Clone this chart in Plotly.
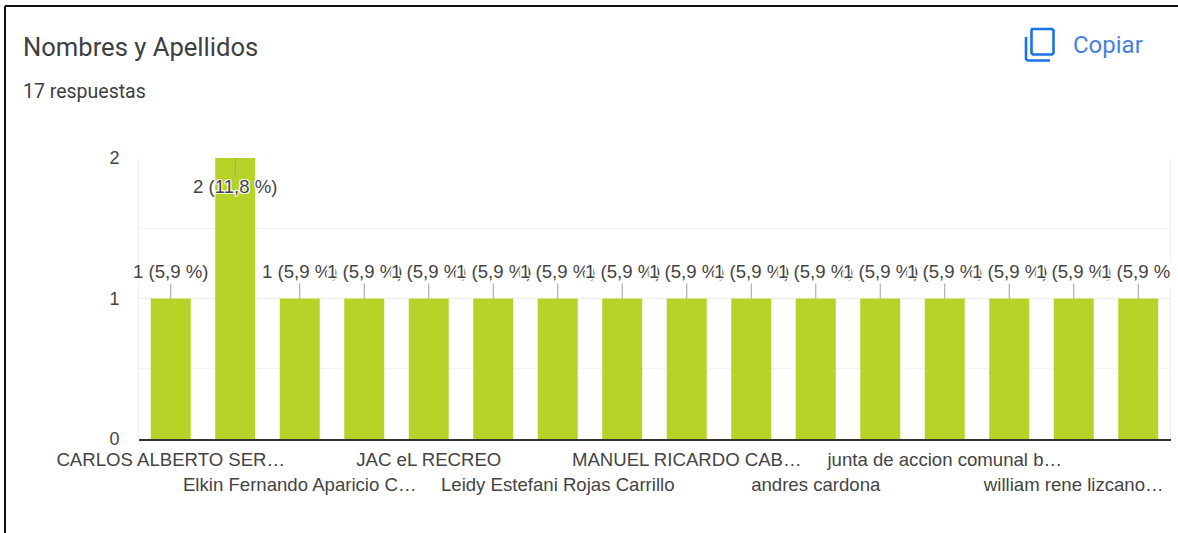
import plotly.graph_objects as go

# Data
title_text = "Nombres y Apellidos"
subtitle_text = "17 respuestas"
copy_text = "Copiar"
bar_ids = list(range(16))
counts = [1, 2, 1, 1, 1, 1, 1, 1, 1, 1, 1, 1, 1, 1, 1, 1]
value_labels = ["1 (5,9 %)", "2 (11,8 %)"] + ["1 (5,9 %)"] * 13 + ['1 (5,9 %<span style="color:#ffffff">)</span>']
tick_ids = [0, 2, 4, 6, 8, 10, 12, 14]
tick_names = [
    "CARLOS ALBERTO SER…",
    "Elkin Fernando Aparicio C…",
    "JAC eL RECREO",
    "Leidy Estefani Rojas Carrillo",
    "MANUEL RICARDO CAB…",
    "andres cardona",
    "junta de accion comunal b…",
    "william rene lizcano…",
]
y_ticks = [0, 1, 2]

W, H = 1178, 533
L, R, T, B = 138.5, 1170.5, 158, 439
THIN_HALO = ("1px 0 0 #fff, -1px 0 0 #fff, 0 1px 0 #fff, 0 -1px 0 #fff, 1px 1px 0 #fff, -1px -1px 0 #fff, "
             "1px -1px 0 #fff, -1px 1px 0 #fff")
HALO = THIN_HALO + ", -2px 0 0 #fff, 2px 0 0 #fff, -2px 2px 0 #fff, -2px -2px 0 #fff, -2px 4px 0 #fff, -2px -4px 0 #fff"


def px(x):
    return x / W


def py(y):
    return 1 - y / H


ticktext = []
for i, name in enumerate(tick_names):
    span = f'<span style="font-size:18.6px">{name}</span>'
    ticktext.append(span if i % 2 == 0 else "<br>" + span)

fig = go.Figure(
    go.Bar(
        x=bar_ids,
        y=counts,
        width=0.62,
        marker=dict(color="#b7d327", line=dict(width=0)),
        hoverinfo="skip",
    )
)

annotations = []
for x, v, lab in zip(bar_ids, counts, value_labels):
    annotations.append(
        dict(
            x=x, y=v, xref="x", yref="y", text=lab,
            showarrow=True, arrowhead=0, arrowwidth=1, arrowcolor="#9e9e9e",
            ax=0, ay=29 if v == 2 else -27, standoff=0,
            font=dict(family="Liberation Sans", size=18.6, color="#444444",
                      shadow=THIN_HALO if v == 2 else HALO),
        )
    )

annotations += [
    dict(x=px(23), y=py(47), xref="paper", yref="paper", xanchor="left", yanchor="middle",
         xshift=-2, text=title_text, showarrow=False,
         font=dict(family="Roboto", size=25.6, color="#3c4043")),
    dict(x=px(23), y=py(91), xref="paper", yref="paper", xanchor="left", yanchor="middle",
         xshift=-2, text=subtitle_text, showarrow=False,
         font=dict(family="Roboto", size=19.5, color="#3c4043")),
    dict(x=px(1073), y=py(45), xref="paper", yref="paper", xanchor="left", yanchor="middle",
         xshift=-2, text=copy_text, showarrow=False,
         font=dict(family="Roboto", size=24, color="#4a7fe0")),
]

shapes = [
    # outer screenshot frame
    dict(type="line", xref="paper", yref="paper", x0=px(5), x1=1, y0=py(6), y1=py(6),
         line=dict(color="#111111", width=2)),
    dict(type="line", xref="paper", yref="paper", x0=px(5), x1=px(5), y0=py(6), y1=0,
         line=dict(color="#111111", width=2)),
    # copy icon
    dict(type="path", xref="paper", yref="paper",
         path=f"M {px(1032)} {py(29)} L {px(1052)} {py(29)} L {px(1053.5)} {py(30.5)} "
              f"L {px(1053.5)} {py(53)} L {px(1052)} {py(54.5)} L {px(1033)} {py(54.5)} "
              f"L {px(1031.5)} {py(53)} L {px(1031.5)} {py(30.5)} Z",
         line=dict(color="#1a73e8", width=2.6)),
    dict(type="path", xref="paper", yref="paper",
         path=f"M {px(1026)} {py(37)} L {px(1026)} {py(59)} L {px(1027.5)} {py(60.5)} L {px(1050)} {py(60.5)}",
         line=dict(color="#1a73e8", width=2.6)),
    # faint plot edges
    dict(type="line", xref="paper", yref="paper", x0=px(L), x1=px(L), y0=py(T), y1=py(B),
         line=dict(color="#f0f0f0", width=1), layer="below"),
    dict(type="line", xref="paper", yref="paper", x0=px(R), x1=px(R), y0=py(T), y1=py(B),
         line=dict(color="#f0f0f0", width=1), layer="below"),
]

fig.update_layout(
    width=W,
    height=H,
    margin=dict(l=0, r=0, t=0, b=0, pad=0),
    paper_bgcolor="white",
    plot_bgcolor="white",
    showlegend=False,
    annotations=annotations,
    shapes=shapes,
    xaxis=dict(
        domain=[px(L), px(R)],
        range=[-0.5, 15.5],
        tickmode="array",
        tickvals=tick_ids,
        ticktext=ticktext,
        tickangle=0,
        ticks="",
        ticklabelstandoff=2,
        showgrid=False,
        zeroline=False,
        showline=True,
        linecolor="#333333",
        linewidth=2,
        automargin=False,
        tickfont=dict(family="Liberation Sans", size=19.2, color="#444444"),
    ),
    yaxis=dict(
        domain=[py(B), py(T)],
        range=[0, 2],
        tickmode="array",
        tickvals=y_ticks,
        ticks="",
        ticklabelstandoff=18,
        showgrid=True,
        gridcolor="#ececec",
        gridwidth=1,
        zeroline=False,
        automargin=False,
        minor=dict(tickmode="array", tickvals=[0.5, 1.5], showgrid=True, gridcolor="#f3f3f3", gridwidth=1, ticks=""),
        tickfont=dict(family="Liberation Sans", size=18, color="#444444"),
    ),
)

fig.write_html(
    "out.html",
    config=dict(displayModeBar=False),
    post_script="document.body.style.margin='0';document.body.style.overflow='hidden';",
)
